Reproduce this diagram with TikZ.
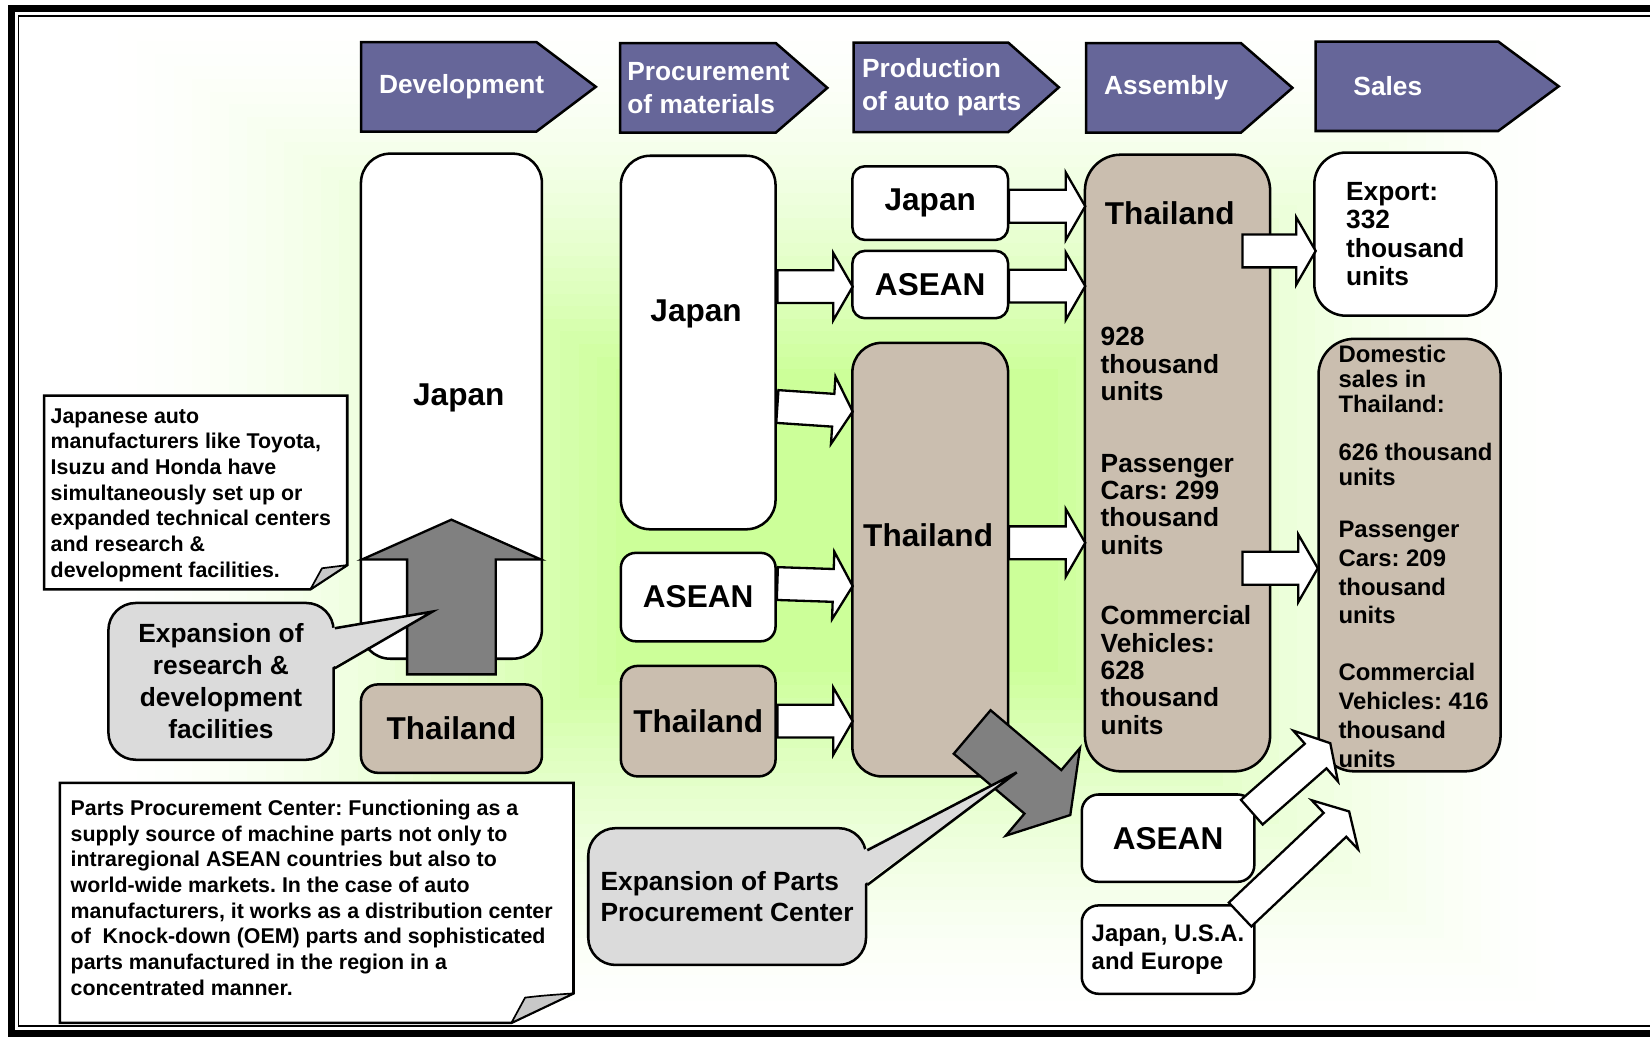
\documentclass[tikz,border=0pt]{standalone}
\usepackage{fontspec}
\setmainfont{Liberation Sans}
\usetikzlibrary{shapes.arrows,shapes.symbols,positioning,calc}
\frenchspacing

\definecolor{stagefill}{RGB}{102,102,153}
\definecolor{tanfill}{RGB}{202,190,175}
\definecolor{callgray}{RGB}{219,219,219}
\definecolor{darkarrow}{RGB}{128,128,128}
\definecolor{foldgray}{RGB}{200,200,200}
\definecolor{glow}{RGB}{204,255,153}

\newcommand\boxfont{\fontsize{30}{33}\selectfont\bfseries}
\newcommand\midfont{\fontsize{25}{26}\selectfont\bfseries}
\newcommand\notefont{\fontsize{20.3}{24.4}\selectfont\bfseries}
\newcommand\salefont{\fontsize{22.7}{24}\selectfont\bfseries}

% block arrow between two points: style, name, tail, tip
\newcommand\fatarrow[4]{%
  \path let \p1=(#3), \p2=(#4),
      \n1={veclen(\x2-\x1,\y2-\y1)}, \n2={atan2(\y2-\y1,\x2-\x1)} in
    node[#1, minimum height=\n1, rotate=\n2] (#2) at ($(\p1)!0.5!(\p2)$) {};}

\begin{document}
\begin{tikzpicture}[x=1pt, y=-1pt,
    stage/.style={signal, signal to=east, signal from=nothing, signal pointer angle=#1, draw, fill=stagefill, line width=2.4, minimum height=85, anchor=west, inner sep=0},
    stage/.default=80,
    stagetext/.style={text=white, font=\fontsize{25}{31}\selectfont\bfseries, align=left, inner sep=0, anchor=west},
    cell/.style={rectangle, rounded corners=#1, draw, fill=white, line width=2.4, inner sep=0, font=\boxfont, align=left},
    cell/.default=14,
    tancell/.style={cell=#1, fill=tanfill},
    tancell/.default=14,
    boxlabel/.style={font=\boxfont, inner sep=0, anchor=center},
    cornerlabel/.style={inner sep=0, anchor=north west, align=left},
    wharrow/.style={single arrow, draw, fill=white, line width=2.2, inner xsep=0, inner ysep=14.5, single arrow head extend=16.5, single arrow tip angle=120, minimum width=62},
    grarrow/.style={single arrow, draw, fill=darkarrow, line width=2.2, inner xsep=0},
    devarrow/.style={grarrow, inner ysep=41, single arrow head extend=43, single arrow tip angle=132, minimum width=170},
    diagarrow/.style={grarrow, inner ysep=26, single arrow head extend=27.5, single arrow tip angle=116, minimum width=107},
    callbox/.style={rectangle, rounded corners=26, draw, fill=callgray, line width=2.4, inner sep=0, font=\fontsize{25}{30.3}\selectfont\bfseries},
    notetext/.style={inner sep=0, anchor=north west, align=left, font=\notefont},
    notebox/.style={draw, fill=white, line width=2.4},
    fold/.style={draw, fill=foldgray, line width=1.6, line join=round}
]
\useasboundingbox (0,0) rectangle (1568,985);

% background glow, from the centre outwards
\foreach \k in {0,...,40}{
  \pgfmathsetmacro\sz{1-\k/40}
  \pgfmathsetmacro\pct{100*min(1,(1-\sz)/0.7)^1.6}
  \fill[glow!\pct!white] ({795-700*\sz},{495-480*\sz}) rectangle ({795+700*\sz},{495+480*\sz});
}
% frame
\draw[line width=7] (1580,8) -- (11,8) -- (11,982) -- (1580,982);
\draw[line width=1.6] (1580,15.5) -- (17.5,15.5) -- (17.5,975) -- (1580,975);

% stages
\node[stage=74, minimum width=223, label={[stagetext, xshift=18]west:Development}] (devstage) at (342,82.5) {};
\node[stage=82, minimum width=197, label={[stagetext, xshift=8]west:Procurement\\of materials}] (procstage) at (588,83.5) {};
\node[stage=83, minimum width=195, label={[stagetext, xshift=9]west:Production\\of auto parts}] (prodstage) at (810,83) {};
\node[stage=82, minimum width=196, label={[stagetext, xshift=18]west:Assembly}] (asmstage) at (1031,83.5) {};
\node[stage=73, minimum width=231, label={[stagetext, xshift=37]west:Sales}] (salestage) at (1249,82) {};

% development
\node[cell=28, minimum width=172, minimum height=480, label={[boxlabel, xshift=7, yshift=8]center:Japan}] (devjp) at (429,386) {};
\node[tancell=16, minimum width=172, minimum height=84, below=22pt of devjp] (devth) {Thailand};

% procurement
\node[cell=28, minimum width=147, minimum height=355, label={[boxlabel, xshift=-2, yshift=27]center:Japan}] (prjp) at (663.5,325.5) {};
\node[cell, minimum width=147, minimum height=84, below=20pt of prjp] (prasean) {ASEAN};
\node[tancell=16, minimum width=147, minimum height=105, below=21pt of prasean] (prth) {Thailand};

% production
\node[cell=12, minimum width=148, minimum height=70] (pdjp) at (884,193) {Japan};
\node[cell=12, minimum width=148, minimum height=64, below=8pt of pdjp] (pdasean) {ASEAN};
\node[tancell=28, minimum width=148, minimum height=412, below=21pt of pdasean, label={[boxlabel, xshift=-2, yshift=23]center:Thailand}] (pdth) {};

% assembly
\node[tancell=34, minimum width=176, minimum height=586,
  label={[cornerlabel, xshift=16, yshift=-46, font=\midfont]north west:{{\boxfont\hspace*{4pt}Thailand}\\[89pt]928\\thousand\\units\\[42pt]Passenger\\Cars: 299\\thousand\\units\\[41pt]Commercial\\Vehicles:\\628\\thousand\\units}}] (asth) at (1119,440) {};

% sales
\node[cell=30, minimum width=173, minimum height=155, font=\fontsize{25}{27}\selectfont\bfseries] (slexp) at (1335.5,222.5) {Export:\\332\\thousand\\units};
\node[tancell=34, minimum width=173, minimum height=411,
  label={[cornerlabel, xshift=20, yshift=-7, font=\salefont]north west:{Domestic\\sales in\\Thailand:\\[21pt]626 thousand\\units\\[25pt]Passenger\\[3.5pt]Cars: 209\\[3.5pt]thousand\\[3.5pt]units\\[30pt]Commercial\\[3.5pt]Vehicles: 416\\[3.5pt]thousand\\[3.5pt]units}}] (sldom) at (1339.5,527.5) {};
\node[cell=16, minimum width=164, minimum height=83] (slasean) at (1110,796.5) {ASEAN};
\node[cell=16, minimum width=164, minimum height=84, below=20pt of slasean, font=\fontsize{22.7}{27}\selectfont\bfseries] (sljue) {Japan, U.S.A.\\and Europe};

% white flows
\fatarrow{wharrow}{a1}{$(prjp.east |- pdasean.west)+(-4,2)$}{$(pdasean.west)+(-3,2)$}
\fatarrow{wharrow}{a2}{$(prjp.east)+(-4,60.5)$}{$(pdth.west)+(-3,-141)$}
\fatarrow{wharrow}{a3}{$(prasean.east)+(-4,-13)$}{$(pdth.west)+(-3,25)$}
\fatarrow{wharrow}{a4}{$(prth.east)+(-4,0)$}{$(pdth.west |- prth.east)+(-3,0)$}
\fatarrow{wharrow}{a5}{$(pdjp.east)+(-5,3)$}{$(asth.west |- pdjp.east)+(-3,3)$}
\fatarrow{wharrow}{a6}{$(pdasean.east)+(-5,1.5)$}{$(asth.west |- pdasean.east)+(-3,1.5)$}
\fatarrow{wharrow}{a7}{$(pdth.east)+(-5,-16)$}{$(asth.west |- pdth.east)+(-3,-16)$}
\fatarrow{wharrow}{a8}{$(asth.east |- slexp.west)+(-32,16)$}{$(slexp.west)+(-2,16)$}
\fatarrow{wharrow}{a9}{$(asth.east |- sldom.west)+(-32,12.5)$}{$(sldom.west)+(-4,12.5)$}
\fatarrow{wharrow}{a10}{$(slasean.north east)+(-7,21)$}{$(sldom.south west)+(9,-25)$}
\fatarrow{wharrow}{a11}{$(sljue.north east)+(-18,13)$}{$(sldom.south west)+(27,40)$}

% expansion arrows
\fatarrow{devarrow}{rdup}{$(devth.north)+(0,1)$}{$(devth.north)+(0,-146)$}
\fatarrow{diagarrow}{ppout}{$(pdth.south east)+(-42,-49)$}{$(asth.south west)+(-19,35)$}

% notes
\coordinate (jpnw) at (42,376);
\coordinate (jpse) at (330,560);
\draw[notebox] (jpnw) -| ($(jpse)+(0,-23)$) -- ($(jpse)+(-35,0)$) -- (jpnw |- jpse) -- cycle;
\draw[fold] ($(jpse)+(-35,0)$) -- ($(jpse)+(-24,-20)$) .. controls ($(jpse)+(-12,-22)$) .. ($(jpse)+(0,-23)$) -- cycle;
\node[notetext] (jpnote) at ($(jpnw)+(6,12)$) {Japanese auto\\manufacturers like Toyota,\\Isuzu and Honda have\\simultaneously set up or\\expanded technical centers\\and research \&\\development facilities.};

\coordinate (ppnw) at (57,744);
\coordinate (ppse) at (545,972);
\draw[notebox] (ppnw) -| ($(ppse)+(0,-28)$) -- ($(ppse)+(-59,0)$) -- (ppnw |- ppse) -- cycle;
\draw[fold] ($(ppse)+(-59,0)$) -- ($(ppse)+(-46,-24)$) .. controls ($(ppse)+(-28,-26)$) .. ($(ppse)+(0,-28)$) -- cycle;
\node[notetext] (ppnote) at ($(ppnw)+(10,16)$) {Parts Procurement Center: Functioning as a\\supply source of machine parts not only to\\intraregional ASEAN countries but also to\\world-wide markets. In the case of auto\\manufacturers, it works as a distribution center\\of\ \ Knock-down (OEM) parts and sophisticated\\parts manufactured in the region in a\\concentrated manner.};

% callouts
\node[callbox, minimum width=214, minimum height=149, align=center] (rdcall) at (210,647.5) {Expansion of\\research \&\\development\\facilities};
\coordinate (rdtip) at ($(devth.north)+(-18,-68)$);
\fill[callgray] ($(rdcall.east)+(-4,-50.5)$) -- (rdtip) -- ($(rdcall.east)+(-4,-12.5)$) -- cycle;
\draw[line width=2.4] ($(rdcall.east)+(0,-50.5)$) -- (rdtip) -- ($(rdcall.east)+(0,-12.5)$);

\node[callbox, minimum width=264, minimum height=130, align=left] (ppcall) at (691,852) {Expansion of Parts\\Procurement Center};
\coordinate (pptip) at ($(pdth.south east)+(7,-5)$);
\fill[callgray] ($(ppcall.east)+(-4,-44)$) -- (pptip) -- ($(ppcall.east)+(-4,-11)$) -- cycle;
\draw[line width=2.4] ($(ppcall.east)+(0,-44)$) -- (pptip) -- ($(ppcall.east)+(0,-11)$);

\end{tikzpicture}
\end{document}
